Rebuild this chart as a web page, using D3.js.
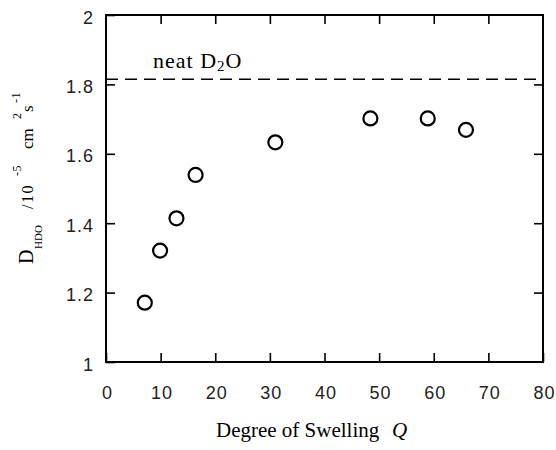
<!DOCTYPE html>
<html>
<head>
<meta charset="utf-8">
<script src="https://cdn.jsdelivr.net/npm/d3@7"></script>
<style>
  body { margin: 0; background: #fff; }
  svg { display: block; }
</style>
</head>
<body>
<div id="chart"></div>
<script>
// degree of swelling Q vs HDO diffusion coefficient
const swelling = [7.1, 9.9, 12.9, 16.4, 31, 48.4, 58.9, 65.9]
const diffusion = [1.171, 1.321, 1.414, 1.539, 1.633, 1.702, 1.702, 1.669]
const neatD2O = 1.815
const xTicks = [0, 10, 20, 30, 40, 50, 60, 70, 80]
const yTicks = [1, 1.2, 1.4, 1.6, 1.8, 2]

const width = 556, height = 450
const margin = {top: 15, right: 13, bottom: 88, left: 106}
const tickLen = 9
const sans = "'Liberation Sans', Arial, sans-serif"
const serif = "'Liberation Serif', 'Times New Roman', serif"

const svg = d3.select('#chart')
    .append('svg')
    .attr('width', width)
    .attr('height', height)

const x = d3.scaleLinear()
    .domain([0, 80])
    .range([margin.left, width - margin.right])
const y = d3.scaleLinear()
    .domain([1, 2])
    .range([height - margin.bottom, margin.top])

// inward ticks on all four sides
const bottomAxis = d3.axisBottom(x).tickValues(xTicks).tickSize(-tickLen).tickFormat(d3.format('d'))
const topAxis = d3.axisTop(x).tickValues(xTicks.slice(1, -1)).tickSize(-tickLen).tickFormat('')
const leftAxis = d3.axisLeft(y).tickValues(yTicks).tickSize(-tickLen).tickFormat(d => d)
const rightAxis = d3.axisRight(y).tickValues(yTicks.slice(1, -1)).tickSize(-tickLen).tickFormat('')

function style(g) {
    g.select('.domain').remove()
    g.selectAll('.tick line').attr('stroke', '#000').attr('stroke-width', 1.6)
    g.selectAll('.tick text')
        .attr('fill', '#222')
        .attr('font-family', sans)
        .attr('font-size', 18)
        .attr('letter-spacing', 1)
}

svg.append('g')
    .attr('transform', `translate(0,${y(1)})`)
    .call(bottomAxis)
    .call(style)
    .call(g => g.selectAll('.tick text').attr('y', 24).attr('dy', '0.71em').attr('dx', 1))
svg.append('g')
    .attr('transform', `translate(0,${y(2)})`)
    .call(topAxis)
    .call(style)
svg.append('g')
    .attr('transform', `translate(${x(0)},0)`)
    .call(leftAxis)
    .call(style)
    .call(g => g.selectAll('.tick text').attr('x', -12).attr('dy', '0.45em'))
svg.append('g')
    .attr('transform', `translate(${x(80)},0)`)
    .call(rightAxis)
    .call(style)

// frame
svg.append('rect')
    .attr('x', x(0))
    .attr('y', y(2))
    .attr('width', x(80) - x(0))
    .attr('height', y(1) - y(2))
    .attr('fill', 'none')
    .attr('stroke', '#000')
    .attr('stroke-width', 2)

// neat D2O reference line
svg.append('line')
    .attr('x1', x(0))
    .attr('x2', x(80))
    .attr('y1', y(neatD2O))
    .attr('y2', y(neatD2O))
    .attr('stroke', '#000')
    .attr('stroke-width', 1.6)
    .attr('stroke-dasharray', '12,7')

const neat = svg.append('text')
    .attr('x', 153)
    .attr('y', y(neatD2O) - 11)
    .attr('font-family', serif)
    .attr('font-size', 22)
    .attr('letter-spacing', 1)
    .attr('fill', '#000')
neat.append('tspan').text('neat D')
neat.append('tspan').attr('font-size', 15).attr('dy', 3).text('2')
neat.append('tspan').attr('dy', -3).text('O')

// data points
svg.append('g')
    .selectAll('circle')
    .data(swelling)
    .join('circle')
    .attr('cx', d => x(d))
    .attr('cy', (d, i) => y(diffusion[i]))
    .attr('r', 7)
    .attr('fill', 'none')
    .attr('stroke', '#000')
    .attr('stroke-width', 2.2)

// x title
const xTitle = svg.append('text')
    .attr('y', 437)
    .attr('font-family', serif)
    .attr('font-size', 21)
    .attr('fill', '#000')
xTitle.append('tspan').attr('x', 216).text('Degree of Swelling')
xTitle.append('tspan').attr('font-style', 'italic').attr('x', 392).text('Q')

// y title, rotated; tspan x is minus the page y
const yTitle = svg.append('text')
    .attr('transform', 'rotate(-90)')
    .attr('font-family', serif)
    .attr('fill', '#000')
const yParts = [
    {t: 'D', at: 264, base: 33, size: 20, ls: 0},
    {t: 'HDO', at: 249, base: 42, size: 11, ls: 0},
    {t: '/10', at: 209, base: 33, size: 16, ls: 1.5},
    {t: '-5', at: 176, base: 21, size: 12, ls: 0.5},
    {t: 'cm', at: 149, base: 33, size: 17, ls: 0},
    {t: '2', at: 119, base: 21, size: 12, ls: 0},
    {t: 's', at: 112, base: 33, size: 17, ls: 0},
    {t: '-1', at: 103, base: 20, size: 12, ls: 0.5}
]
yTitle.selectAll('tspan')
    .data(yParts)
    .join('tspan')
    .attr('x', d => -d.at)
    .attr('y', d => d.base)
    .attr('font-size', d => d.size)
    .attr('letter-spacing', d => d.ls)
    .text(d => d.t)
</script>
</body>
</html>
